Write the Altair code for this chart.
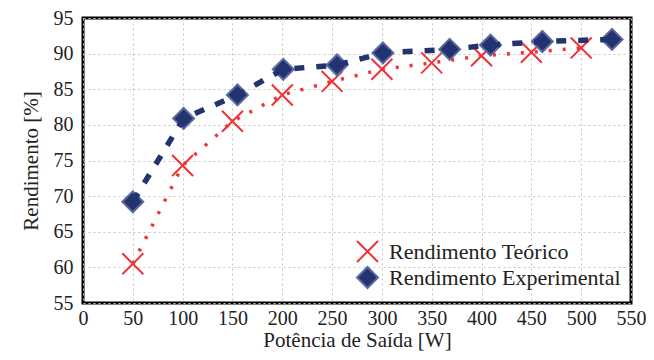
import altair as alt
import pandas as pd

# Data
pot_teorico = [50, 100, 150, 200, 250, 300, 350, 400, 450, 500]
rend_teorico = [60.5, 74.3, 80.5, 84.2, 86.1, 87.8, 88.7, 89.7, 90.2, 90.8]
pot_exp = [50, 101, 155, 201, 255, 301, 368, 409, 461, 531]
rend_exp = [69.2, 80.9, 84.2, 87.8, 88.4, 90.1, 90.6, 91.2, 91.7, 92.0]
series_names = ["Rendimento Teórico", "Rendimento Experimental"]
x_ticks = list(range(0, 551, 50))
y_ticks = list(range(55, 96, 5))

RED = "#ee3338"
NAVY = "#233370"
NAVY_EDGE = "#5a69a0"
FONT = "Liberation Serif"
X_PATH = "M-1,-1L1,1M-1,1L1,-1"

df_t = pd.DataFrame({"p": pot_teorico, "r": rend_teorico, "s": series_names[0]})
df_e = pd.DataFrame({"p": pot_exp, "r": rend_exp, "s": series_names[1]})
df = pd.concat([df_t, df_e], ignore_index=True)

x_enc = alt.X("p:Q", title="Potência de Saída [W]",
              scale=alt.Scale(domain=[0, 550], nice=False, zero=False),
              axis=alt.Axis(values=x_ticks, labelFlush=False))
y_enc = alt.Y("r:Q", title="Rendimento [%]",
              scale=alt.Scale(domain=[55, 95], nice=False, zero=False),
              axis=alt.Axis(values=y_ticks))

points = alt.Chart(df).mark_point(filled=True, size=440, strokeWidth=2, opacity=1).encode(
    x=x_enc, y=y_enc,
    shape=alt.Shape("s:N", scale=alt.Scale(domain=series_names, range=[X_PATH, "diamond"]),
                    legend=alt.Legend(title=None)),
    fill=alt.Fill("s:N", scale=alt.Scale(domain=series_names, range=[RED, NAVY]),
                  legend=alt.Legend(title=None)),
    stroke=alt.Stroke("s:N", scale=alt.Scale(domain=series_names, range=[RED, NAVY_EDGE]),
                      legend=alt.Legend(title=None)),
)

line_t = alt.Chart(df_t).mark_line(color=RED, strokeWidth=3.5, strokeDash=[3, 11], strokeCap="butt").encode(
    x=x_enc, y=y_enc)
line_e = alt.Chart(df_e).mark_line(color=NAVY, strokeWidth=5.5, strokeDash=[10, 12], strokeCap="butt").encode(
    x=x_enc, y=y_enc)

chart = alt.layer(points, line_t, line_e).properties(
    width=548, height=285,
    autosize=alt.AutoSizeParams(type="none"),
    padding={"left": 75, "top": 10, "right": 15, "bottom": 49},
).configure_view(
    stroke="black", strokeWidth=3
).configure_axis(
    domain=False, ticks=False,
    grid=True, gridColor="#c4c4c4", gridDash=[2, 3], gridWidth=1,
    labelFont=FONT, labelFontSize=20, labelColor="#222222",
    titleFont=FONT, titleFontSize=21, titleFontWeight="normal", titleColor="#222222",
).configure_axisX(
    labelPadding=5, titlePadding=1,
).configure_axisY(
    labelPadding=10, titlePadding=12,
).configure_legend(
    orient="none", legendX=273, legendY=222,
    labelFont=FONT, labelFontSize=22, labelColor="#222222", labelLimit=400,
    symbolSize=440, symbolStrokeWidth=2, labelOffset=10, rowPadding=-5,
    padding=0,
)

chart.save("out.html", embed_options={"renderer": "svg", "actions": False})
